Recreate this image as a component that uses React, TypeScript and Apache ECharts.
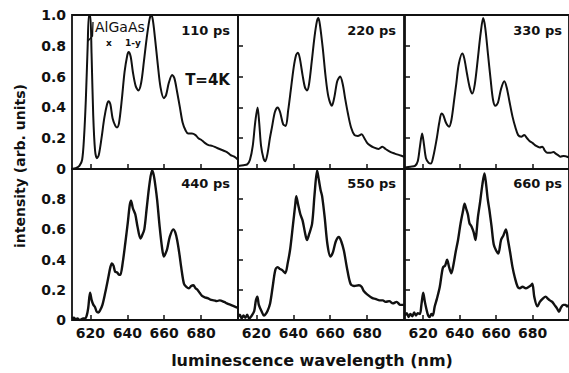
import React, { useEffect, useRef } from "react";
import * as echarts from "echarts";

// wavelength (nm), intensity (arb. units)
const s110: [number, number][] = [
  [610, 0.0], [612, 0.005], [614, 0.02], [615.5, 0.06], [616.5, 0.2], [617.5, 0.45], [618.5, 0.8], [619.2, 1.0], [619.9, 1.0],
  [620.6, 0.75], [621.5, 0.35], [622.5, 0.12], [623.5, 0.07], [624.5, 0.09], [626, 0.2], [627.5, 0.33], [629, 0.42], [629.8, 0.44],
  [630.8, 0.42], [632, 0.33], [633.5, 0.28], [634.4, 0.27], [635.5, 0.3], [637, 0.45], [638.5, 0.63], [640, 0.74], [640.7, 0.76],
  [641.8, 0.73], [643, 0.63], [644.5, 0.54], [646, 0.51], [647.5, 0.56], [649, 0.7], [650.5, 0.85], [652, 0.97], [652.9, 1.0],
  [653.8, 0.97], [655, 0.85], [656.5, 0.68], [658, 0.53], [659.8, 0.46], [661, 0.48], [662.5, 0.56], [664.3, 0.61], [665.5, 0.59],
  [667, 0.5], [668.5, 0.4], [670, 0.3], [671.6, 0.25], [673, 0.23], [675, 0.23], [677, 0.22], [678.5, 0.2], [680, 0.19],
  [682, 0.17], [684, 0.155], [686, 0.15], [688, 0.14], [690, 0.13], [692, 0.12], [694, 0.11], [696, 0.09], [698, 0.08], [700, 0.06],
];
const s220: [number, number][] = [
  [610, 0.02], [613, 0.025], [615, 0.03], [616.5, 0.06], [618, 0.15], [619.3, 0.3], [620.6, 0.4], [621.5, 0.3], [622.5, 0.15],
  [623.8, 0.07], [624.8, 0.05], [626, 0.1], [627.3, 0.2], [628.4, 0.27], [630, 0.37], [631.5, 0.4], [632.8, 0.37], [634.5, 0.29],
  [635.9, 0.28], [637.2, 0.38], [638.6, 0.51], [640.2, 0.66], [641.5, 0.74], [642.5, 0.755], [643.5, 0.72], [645, 0.61],
  [646.3, 0.53], [647.4, 0.51], [648.5, 0.55], [650, 0.7], [651.5, 0.86], [652.8, 0.96], [653.6, 0.98], [654.5, 0.93], [656, 0.78],
  [657.5, 0.6], [659, 0.47], [660.9, 0.41], [662.3, 0.47], [663.8, 0.57], [665.4, 0.6], [666.8, 0.55], [668.2, 0.45], [669.6, 0.36],
  [671.3, 0.27], [673.2, 0.22], [675, 0.215], [677, 0.225], [678.5, 0.2], [680, 0.17], [681.4, 0.155], [683.5, 0.14], [686.2, 0.13],
  [688.3, 0.145], [690, 0.13], [692.8, 0.11], [695, 0.1], [697.5, 0.09], [700, 0.08],
];
const s330: [number, number][] = [
  [610, 0.01], [613, 0.015], [615.5, 0.02], [617, 0.05], [618.2, 0.145], [619.4, 0.23], [620.4, 0.16], [621.5, 0.07], [623, 0.04],
  [624.2, 0.035], [625.5, 0.08], [627.3, 0.19], [628.8, 0.3], [630, 0.36], [631, 0.35], [632.5, 0.3], [634.2, 0.275], [635.5, 0.32],
  [637, 0.45], [638.2, 0.56], [639.5, 0.68], [641.4, 0.75], [642.5, 0.72], [644, 0.62], [645.5, 0.53], [646.9, 0.49], [648.3, 0.55],
  [650, 0.72], [651.5, 0.88], [652.9, 0.98], [654, 0.92], [655.5, 0.75], [657, 0.58], [658.3, 0.45], [659.6, 0.41], [661, 0.43],
  [662.7, 0.52], [664.5, 0.57], [665.8, 0.53], [667.3, 0.44], [669, 0.34], [670.6, 0.27], [672.1, 0.22], [673.8, 0.21], [675.4, 0.22],
  [677, 0.2], [678.5, 0.18], [679.9, 0.17], [682, 0.15], [684, 0.14], [685.4, 0.145], [686.7, 0.12], [688.1, 0.105], [690, 0.105],
  [691.5, 0.11], [692.7, 0.1], [694, 0.09], [695.4, 0.08], [697, 0.085], [700, 0.075],
];
const s440: [number, number][] = [
  [610, 0.01], [611, 0.015], [612, 0.005], [613, 0.01], [614, 0.0], [615, 0.005], [616, 0.01], [617, 0.01], [618, 0.03], [618.8, 0.08],
  [619.8, 0.18], [620.7, 0.13], [621.6, 0.1], [622.5, 0.085], [623.4, 0.055], [624.3, 0.05], [625.3, 0.066], [626.5, 0.1], [628, 0.18],
  [629.5, 0.27], [630.8, 0.35], [631.6, 0.375], [632.5, 0.36], [633.4, 0.32], [634.5, 0.315], [635.5, 0.3], [636.2, 0.3], [637.5, 0.38],
  [638.9, 0.51], [640.3, 0.65], [641.3, 0.76], [642, 0.79], [643, 0.74], [644.3, 0.7], [645.5, 0.62], [647.1, 0.54], [648, 0.56],
  [649.2, 0.6], [650.5, 0.74], [652, 0.9], [653.4, 0.99], [654.3, 0.96], [655.2, 0.89], [656.2, 0.79], [657.5, 0.62], [658.8, 0.48],
  [659.8, 0.42], [660.7, 0.44], [661.6, 0.47], [663, 0.55], [664.9, 0.6], [666, 0.58], [667, 0.53], [668.2, 0.44], [669.2, 0.35],
  [670.7, 0.24], [672, 0.22], [673.4, 0.21], [674.6, 0.225], [675.8, 0.23], [677, 0.21], [678, 0.2], [679.2, 0.18], [680.5, 0.16],
  [682, 0.15], [683.5, 0.145], [685, 0.135], [687, 0.13], [688.5, 0.125], [690, 0.13], [692.5, 0.12], [694, 0.11], [696, 0.1],
  [698, 0.09], [700, 0.08],
];
const s550: [number, number][] = [
  [610, 0.02], [611, 0.035], [612, 0.01], [613, 0.03], [614, 0.015], [615, 0.035], [616, 0.01], [617.5, 0.03], [618.8, 0.06],
  [619.7, 0.13], [620.5, 0.155], [621.3, 0.1], [622.9, 0.055], [624, 0.03], [624.7, 0.035], [626, 0.06], [627.4, 0.11], [628.8, 0.22],
  [630.2, 0.33], [631.4, 0.35], [632.5, 0.34], [634, 0.33], [635.6, 0.31], [637, 0.38], [638.3, 0.47], [639.8, 0.63], [641, 0.76],
  [641.6, 0.82], [642.5, 0.77], [643.8, 0.7], [645, 0.66], [646.3, 0.58], [647.4, 0.53], [648.6, 0.57], [650.2, 0.64], [651.5, 0.83],
  [652.9, 0.99], [653.8, 0.93], [654.8, 0.86], [655.6, 0.82], [657, 0.68], [658.5, 0.5], [660.1, 0.42], [661.5, 0.45], [663, 0.52],
  [664.7, 0.55], [666, 0.52], [667.4, 0.46], [669, 0.35], [671, 0.24], [673, 0.225], [675.6, 0.23], [677, 0.22], [678.3, 0.19],
  [680, 0.17], [682.9, 0.145], [684.5, 0.14], [686.8, 0.13], [688.5, 0.13], [690, 0.12], [692, 0.125], [694, 0.11], [696, 0.12],
  [698, 0.1], [700, 0.1],
];
const s660: [number, number][] = [
  [610, 0.03], [611, 0.045], [612, 0.02], [613, 0.04], [614, 0.025], [615, 0.05], [616, 0.03], [617, 0.045], [618.2, 0.04], [619, 0.1],
  [620, 0.18], [620.9, 0.12], [621.8, 0.07], [622.7, 0.03], [623.6, 0.02], [624.5, 0.04], [625.3, 0.03], [626.3, 0.09], [627.5, 0.14],
  [629.1, 0.22], [630.2, 0.31], [630.9, 0.35], [632, 0.36], [633.1, 0.4], [634.2, 0.35], [635.4, 0.31], [636.5, 0.36], [637.8, 0.45],
  [639.1, 0.53], [640.5, 0.64], [641.8, 0.72], [642.7, 0.77], [643.5, 0.74], [644.5, 0.7], [645.4, 0.64], [646.5, 0.62], [647.7, 0.58],
  [648.7, 0.53], [649.4, 0.6], [650, 0.68], [651.2, 0.78], [652.5, 0.9], [653.6, 0.97], [654.5, 0.9], [655.4, 0.8], [656.3, 0.73],
  [657.5, 0.62], [658.7, 0.5], [660, 0.46], [661.2, 0.44], [662.7, 0.53], [664, 0.56], [665.4, 0.6], [666.5, 0.53], [667.8, 0.44],
  [669, 0.35], [670.3, 0.28], [671.8, 0.22], [673, 0.21], [674.5, 0.22], [676.3, 0.21], [678, 0.22], [679.2, 0.23], [679.9, 0.24],
  [681, 0.15], [682.6, 0.09], [684, 0.12], [685.5, 0.14], [687.2, 0.155], [688.5, 0.14], [689.5, 0.13], [690.8, 0.12], [692, 0.1],
  [693.5, 0.075], [694.5, 0.055], [695.5, 0.08], [696.8, 0.1], [698.1, 0.1], [699, 0.09], [700, 0.1],
];

const panelLabels = ["110 ps", "220 ps", "330 ps", "440 ps", "550 ps", "660 ps"];
const panelData = [s110, s220, s330, s440, s550, s660];
const xTicks = [620, 640, 660, 680];
const yTicksTop = [0, 0.2, 0.4, 0.6, 0.8, 1.0];
const yTicksBottom = [0, 0.2, 0.4, 0.6, 0.8];
const yInnerTicks = [0.2, 0.4, 0.6, 0.8];
const xTitle = "luminescence wavelength (nm)";
const yTitle = "intensity (arb. units)";
const tempLabel = "T=4K";

const FONT = "DejaVu Sans";

export default function App() {
  const ref = useRef<HTMLDivElement>(null);
  useEffect(() => {
    document.body.style.margin = "0";
    if (!ref.current) return;
    const chart = echarts.init(ref.current, null, { renderer: "svg" });
    const lefts = [72, 238, 405];
    const tops = [15, 169];
    const heights = [154, 151];
    const grids: any[] = [];
    const xAxes: any[] = [];
    const yAxes: any[] = [];
    const series: any[] = [];
    const graphics: any[] = [];
    for (let i = 0; i < 6; i++) {
      const row = Math.floor(i / 3);
      const col = i % 3;
      grids.push({
        left: lefts[col], top: tops[row], width: 166, height: heights[row],
        show: true, borderColor: "#111", borderWidth: 1.8, containLabel: false,
      });
      xAxes.push({
        type: "value", gridIndex: i, min: 610, max: 700,
        axisLine: { show: false },
        splitLine: { show: false },
        axisTick: { show: true, inside: true, length: 5, customValues: xTicks, lineStyle: { color: "#111", width: 1.5 } },
        axisLabel: {
          show: row === 1, customValues: xTicks, color: "#111", fontFamily: FONT, fontSize: 14, fontWeight: "bold", margin: 6,
        },
      });
      yAxes.push({
        type: "value", gridIndex: i, min: 0, max: 1,
        axisLine: { show: false },
        splitLine: { show: false },
        axisTick: { show: col !== 0, inside: true, length: 5, customValues: yInnerTicks, lineStyle: { color: "#111", width: 1.5 } },
        axisLabel: {
          show: col === 0, customValues: row === 0 ? yTicksTop : yTicksBottom, color: "#111", fontFamily: FONT, fontSize: 14,
          fontWeight: "bold", margin: 6,
          formatter: (v: number) => (v === 0 ? "0" : v.toFixed(1)),
        },
      });
      series.push({
        type: "line", xAxisIndex: i, yAxisIndex: i, data: panelData[i], showSymbol: false, smooth: 0.3,
        lineStyle: { color: "#111", width: row === 0 ? 2 : 2.4 }, clip: true,
      });
      const right = lefts[col] + (col === 2 ? 157 : 158);
      graphics.push({
        type: "text", x: right, y: row === 0 ? 30 : 183,
        style: { text: panelLabels[i], align: "right", verticalAlign: "middle", font: `bold 13px "${FONT}"`, fill: "#111" },
      });
    }
    graphics.push(
      { type: "text", x: 230, y: 80, style: { text: tempLabel, align: "right", verticalAlign: "middle", font: `bold 15px "${FONT}"`, fill: "#111" } },
      { type: "text", x: 95, y: 27, style: { text: "AlGaAs", align: "left", verticalAlign: "middle", font: `14px "${FONT}"`, fill: "#111" } },
      { type: "text", x: 109, y: 43, style: { text: "x", align: "center", verticalAlign: "middle", font: `bold 9px "${FONT}"`, fill: "#111" } },
      { type: "text", x: 133, y: 43, style: { text: "1-y", align: "center", verticalAlign: "middle", font: `bold 9px "${FONT}"`, fill: "#111" } },
      { type: "polyline", shape: { points: [[93, 22], [92.5, 36], [88, 41]] }, style: { stroke: "#111", lineWidth: 1.3, fill: null } },
      {
        type: "text", x: 20, y: 166, rotation: Math.PI / 2,
        style: { text: yTitle, align: "center", verticalAlign: "middle", font: `bold 14px "${FONT}"`, fill: "#111" },
      },
      {
        type: "text", x: 312, y: 360,
        style: { text: xTitle, align: "center", verticalAlign: "middle", font: `bold 16px "${FONT}"`, fill: "#111" },
      },
    );
    chart.setOption({
      animation: false,
      backgroundColor: "#fff",
      grid: grids,
      xAxis: xAxes,
      yAxis: yAxes,
      series,
      graphic: graphics,
    });
    return () => chart.dispose();
  }, []);
  return <div ref={ref} style={{ width: 569, height: 373 }} />;
}
